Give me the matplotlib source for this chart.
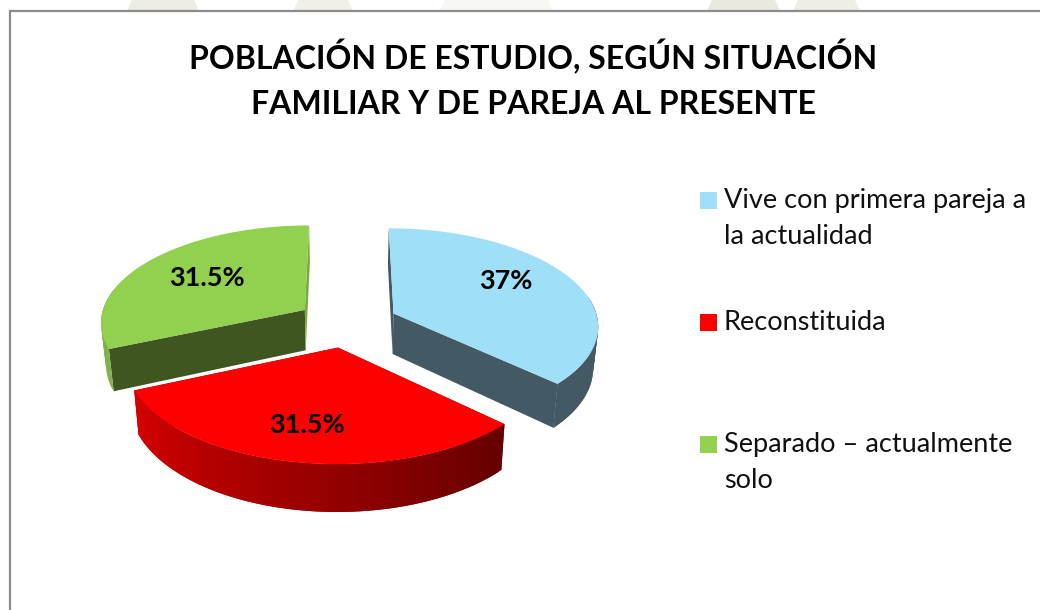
"""Exploded 3D-look pie: poblacion de estudio por situacion familiar."""
import matplotlib
matplotlib.use('Agg')
import matplotlib.pyplot as plt
from matplotlib.colors import to_rgb
from matplotlib.patches import Rectangle
import numpy as np

plt.rcParams['font.family'] = ['Lato', 'DejaVu Sans']

TITLE = 'POBLACIÓN DE ESTUDIO, SEGÚN SITUACIÓN\nFAMILIAR Y DE PAREJA AL PRESENTE'
categories = ['Vive con primera pareja a\nla actualidad', 'Reconstituida',
              'Separado – actualmente\nsolo']
values = [37, 31.5, 31.5]
value_labels = ['37%', '31.5%', '31.5%']

top_colors = ['#9FDFF8', '#FF0000', '#92D050']
face_colors = ['#435A65', '#7A0000', '#3F5620']
# rim shading per slice, from the angle start to the angle end
rim_colors = [('#435A65', '#435A65'), ('#640000', '#D60000'), ('#7FB24A', '#7FB24A')]
edge_colors = ['#435A65', '#7A0000', '#7BA83F']

# perspective model of the pie, in pixels
CX, CY = 347, 323
RX, RY = 205, 97
PERSP = 0.115
EXPLODE = 0.25
DEPTH = 41
SHRINK = 0.98


def project(x, y):
    d = 1 + PERSP * y
    return CX + RX * x / d, CY - RY * y / d


def project_low(x, y):
    d = 1 + PERSP * y
    return CX + SHRINK * RX * x / d, CY - RY * y / d + DEPTH / d


def draw_slice(ax, start, end, top, rim, cut):
    mid = np.radians((start + end) / 2)
    ox, oy = EXPLODE * np.cos(mid), EXPLODE * np.sin(mid)
    th = np.radians(np.linspace(start, end, 90))
    xs, ys = ox + np.cos(th), oy + np.sin(th)
    ax_, ay_ = project(ox, oy)
    bx, by = project_low(ox, oy)

    # cut faces: the one at the arc start, then the one at the arc end
    for i, col in [(0, cut[0]), (-1, cut[1])]:
        tx, ty = project(xs[i], ys[i])
        lx, ly = project_low(xs[i], ys[i])
        ax.fill([ax_, tx, lx, bx], [ay_, ty, ly, by], color=col, lw=0, zorder=2)

    # rim, strip by strip so the shade can run along the arc; each strip
    # overlaps the next one to hide the seams. The back of the rim is hidden.
    c0, c1 = np.array(to_rgb(rim[0])), np.array(to_rgb(rim[1]))
    for i in range(len(th) - 1):
        if np.sin(th[i]) > 0.2:
            continue
        j = min(i + 3, len(th))
        px, py = project(xs[i:j], ys[i:j])
        qx, qy = project_low(xs[i:j], ys[i:j])
        col = c0 + (c1 - c0) * i / (len(th) - 2)
        ax.fill(np.r_[px, qx[::-1]], np.r_[py, qy[::-1]], color=col, lw=0, zorder=3)

    px, py = project(xs, ys)
    ax.fill(np.r_[ax_, px], np.r_[ay_, py], color=top, lw=0, zorder=4)


fig = plt.figure(figsize=(10.4, 6.1), dpi=100)
ax = fig.add_axes([0, 0, 1, 1])
ax.set_xlim(0, 1040)
ax.set_ylim(610, 0)
ax.axis('off')

# bits of the page watermark showing above the chart frame
for x0, x1, col in [(127, 199, '#ECECE4'), (293, 353, '#F0F0E9'), (440, 553, '#F7F7F3'),
                    (707, 780, '#E9E9E0'), (793, 860, '#EEEEE6')]:
    ax.fill([x0 + 5, x1 - 5, x1, x0], [0, 0, 11, 11], color=col, lw=0, zorder=0)

# chart frame, runs off the right and bottom of the crop
ax.add_patch(Rectangle((10, 10.5), 1100, 700, fc='white', ec='#8C8C8C', lw=1.6, zorder=1))

ax.text(533, 79, TITLE, ha='center', va='center', fontsize=23, fontweight='bold',
        color='black', linespacing=1.63, zorder=5)

# slices run clockwise from 12 o'clock
angles = 90 - np.cumsum([0] + values) * 3.6
draw_order = [0, 2, 1]  # front slice goes last
cuts = [(edge_colors[0], face_colors[0]),
        (face_colors[1], face_colors[1]),
        (face_colors[2], edge_colors[2])]
for i in draw_order:
    draw_slice(ax, angles[i], angles[i + 1], top_colors[i], rim_colors[i], cuts[i])

label_pos = [(506, 281), (307, 425), (207, 278)]
for (lx, ly), text in zip(label_pos, value_labels):
    ax.text(lx, ly, text, ha='center', va='center', fontsize=19.5, fontweight='bold',
            color='black', zorder=6)

legend_y = [192, 314, 436]
for y, name, col in zip(legend_y, categories, top_colors):
    ax.add_patch(Rectangle((700, y), 17, 17, fc=col, ec='none', zorder=5))
    for k, line in enumerate(name.split('\n')):
        ax.text(724, y + 16 + 36 * k, line, ha='left', va='baseline', fontsize=19.5,
                color='#111111', zorder=5)

fig.savefig('out.png', dpi=100)
